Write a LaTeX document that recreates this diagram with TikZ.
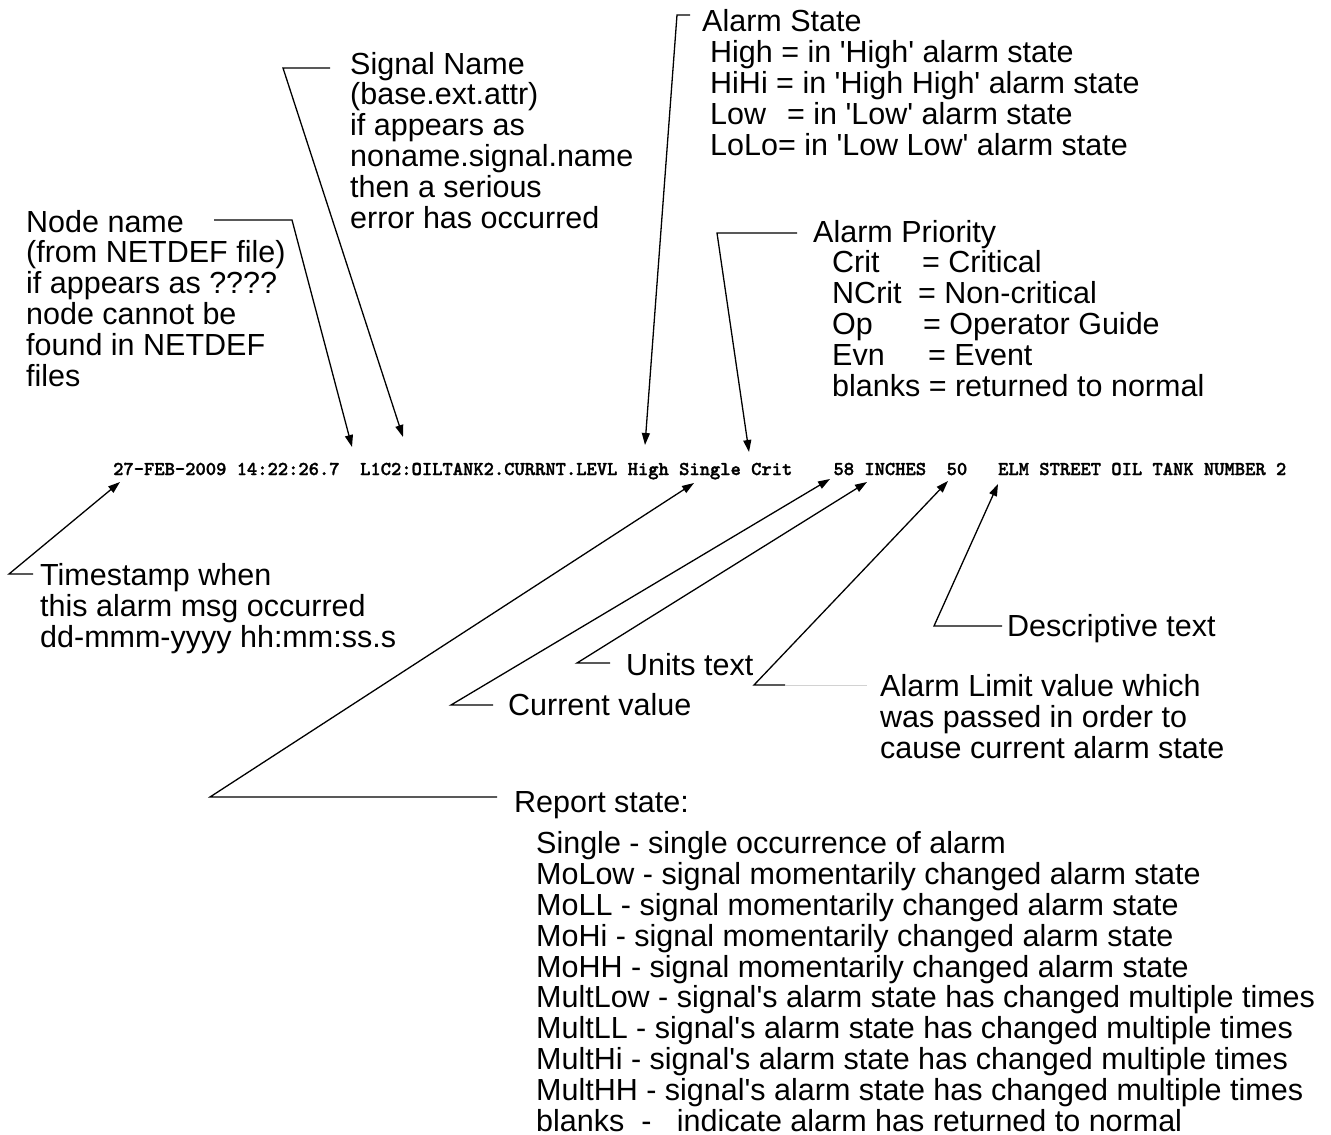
\documentclass[tikz,border=0pt]{standalone}
\usepackage{fontspec}
\setmainfont{Liberation Sans}
\newfontfamily\msgfont{lmmonolt10-bold.otf}[FakeBold=1.6]
\usetikzlibrary{arrows.meta}

\newcommand{\sq}{\textquotesingle}

% multi-line notes sit on the baseline of their last line
\tikzset{
  note/.style={anchor=base west, align=left, inner sep=0pt,
    font=\fontsize{30.5}{30.8}\selectfont},
  msgline/.style={anchor=base west, inner sep=0pt,
    font=\fontsize{19.6}{20}\msgfont},
  leader/.style={line width=1.3pt, -{Triangle[length=12pt,width=8pt]}},
}

\begin{document}
\begin{tikzpicture}[x=1pt, y=-1pt]
  \useasboundingbox (0,0) rectangle (1331,1135);

  % the alarm message itself
  \node[msgline] (msg) at (113,475)
    {27-FEB-2009 14:22:26.7~~L1C2:OILTANK2.CURRNT.LEVL High Single Crit~~~~58 INCHES~~50~~~ELM STREET OIL TANK NUMBER 2};

  % labels above the message
  \node[note] (nodename) at (26,386)
    {Node name\\(from NETDEF file)\\if appears as ????\\node cannot be\\found in NETDEF\\files};
  \node[note] (signame) at (350,228)
    {Signal Name\\(base.ext.attr)\\if appears as\\noname.signal.name\\then a serious\\error has occurred};
  \node[note] (state) at (702,155)
    {Alarm State\\
     \hspace*{8pt}High = in \sq High\sq{} alarm state\\
     \hspace*{8pt}HiHi = in \sq High High\sq{} alarm state\\
     \hspace*{8pt}Low\hspace*{21pt}= in \sq Low\sq{} alarm state\\
     \hspace*{8pt}LoLo= in \sq Low Low\sq{} alarm state};
  \node[note] (prio) at (813,396)
    {Alarm Priority\\
     \hspace*{19pt}\makebox[90pt][l]{Crit}= Critical\\
     \hspace*{19pt}\makebox[86pt][l]{NCrit}= Non-critical\\
     \hspace*{19pt}\makebox[91pt][l]{Op}= Operator Guide\\
     \hspace*{19pt}\makebox[96pt][l]{Evn}= Event\\
     \hspace*{19pt}blanks = returned to normal};

  % labels below the message
  \node[note] (stamp) at (40,647)
    {Timestamp when\\this alarm msg occurred\\dd-mmm-yyyy hh:mm:ss.s};
  \node[note] (desc) at (1007,636) {Descriptive text};
  \node[note] (units) at (626,675) {Units text};
  \node[note] (value) at (508,715) {Current value};
  \node[note] (limit) at (880,758)
    {Alarm Limit value which\\was passed in order to\\cause current alarm state};
  \node[note] (report) at (514,812) {Report state:};
  \node[note] (reportlist) at (536,1131)
    {Single - single occurrence of alarm\\
     MoLow - signal momentarily changed alarm state\\
     MoLL - signal momentarily changed alarm state\\
     MoHi - signal momentarily changed alarm state\\
     MoHH - signal momentarily changed alarm state\\
     MultLow - signal\sq s alarm state has changed multiple times\\
     MultLL - signal\sq s alarm state has changed multiple times\\
     MultHi - signal\sq s alarm state has changed multiple times\\
     MultHH - signal\sq s alarm state has changed multiple times\\
     blanks~~-~~~indicate alarm has returned to normal};

  % leader points: stub end, bend, arrow tip
  \coordinate (nnStub) at (214,220);  \coordinate (nnBend) at (292,220);  \coordinate (nnTip) at (352,447);
  \coordinate (sgStub) at (330,68);   \coordinate (sgBend) at (283,68);   \coordinate (sgTip) at (403,437);
  \coordinate (stStub) at (690,15);   \coordinate (stBend) at (677,15);   \coordinate (stTip) at (645,445);
  \coordinate (prStub) at (797,233);  \coordinate (prBend) at (717,233);  \coordinate (prTip) at (749,452);
  \coordinate (tsStub) at (33,574);   \coordinate (tsBend) at (9,574);    \coordinate (tsTip) at (120,482);
  \coordinate (rpStub) at (497,797);  \coordinate (rpBend) at (210,797);  \coordinate (rpTip) at (694,483);
  \coordinate (cvStub) at (493,705);  \coordinate (cvBend) at (451,705);  \coordinate (cvTip) at (830,479);
  \coordinate (unStub) at (610,663);  \coordinate (unBend) at (577,663);  \coordinate (unTip) at (867,482);
  \coordinate (lmStub) at (785,685);  \coordinate (lmBend) at (754,685);  \coordinate (lmTip) at (948,481);
  \coordinate (lmFar) at (867,685);
  \coordinate (dsStub) at (1002,626); \coordinate (dsBend) at (934,626);  \coordinate (dsTip) at (998,484);

  \draw[leader] (nnStub) -- (nnBend) -- (nnTip);
  \draw[leader] (sgStub) -- (sgBend) -- (sgTip);
  \draw[leader] (stStub) -- (stBend) -- (stTip);
  \draw[leader] (prStub) -- (prBend) -- (prTip);
  \draw[leader] (tsStub) -- (tsBend) -- (tsTip);
  \draw[leader] (rpStub) -- (rpBend) -- (rpTip);
  \draw[leader] (cvStub) -- (cvBend) -- (cvTip);
  \draw[leader] (unStub) -- (unBend) -- (unTip);
  \draw[leader] (lmStub) -- (lmBend) -- (lmTip);
  \draw[gray!35, line width=1pt] (lmStub) -- (lmFar);
  \draw[leader] (dsStub) -- (dsBend) -- (dsTip);
\end{tikzpicture}
\end{document}
